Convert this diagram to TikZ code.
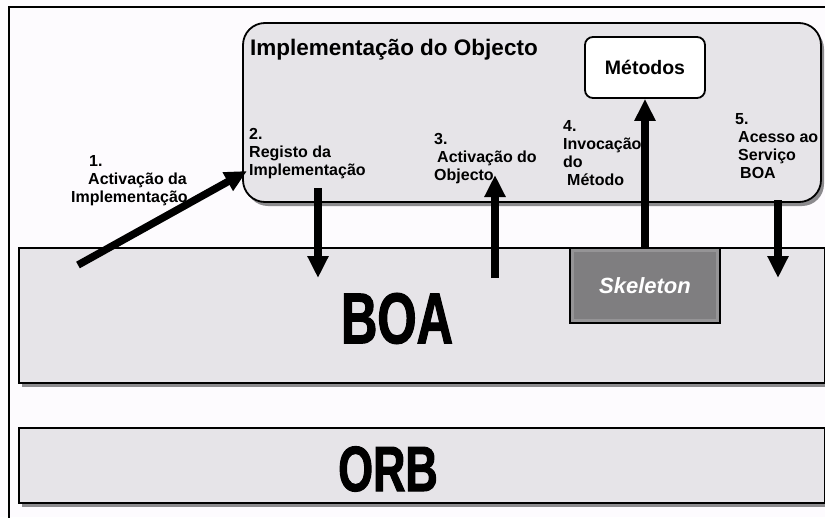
\documentclass[tikz,border=0pt]{standalone}
\usepackage{fontspec}
\setmainfont{Liberation Sans}
\newfontfamily\narrowfont[FakeStretch=0.7,FakeBold=1.5]{Liberation Sans}
\usetikzlibrary{arrows.meta,shadows}
\definecolor{fundo}{HTML}{FDFBFE}
\definecolor{cinzacaixa}{HTML}{E6E4E8}
\definecolor{sombra}{HTML}{8C8B8E}
\definecolor{skel}{HTML}{7F7E80}
\definecolor{skelborda}{HTML}{959496}

\begin{document}
\begin{tikzpicture}[x=1pt,y=-1pt,
    caixa/.style={draw, line width=1.8pt, fill=cinzacaixa, inner sep=0pt,
        drop shadow={shadow xshift=3pt, shadow yshift=-4pt, fill=sombra, opacity=1}},
    seta/.style={line width=7.5pt, -{Triangle[width=20pt,length=22pt]}},
    rotulo/.style={anchor=north west, inner sep=0pt, align=left,
        font=\bfseries\fontsize{16}{18}\selectfont}]
            \fill[fundo] (0,0) rectangle (825,517);
            \clip (0,0) rectangle (825,517);
            \draw[line width=2pt] (9,520) -- (9,7) -- (830,7);

            % camadas
            \node[caixa, rounded corners=22pt, minimum width=578pt, minimum height=179pt] (impl) at (532,112.5) {};
            \node[caixa, minimum width=806pt, minimum height=135pt] (boa) at (422,315.5) {};
            \node[caixa, minimum width=806pt, minimum height=75pt] (orb) at (422,465.5) {};

            \node[anchor=west, inner sep=0pt, font=\bfseries\fontsize{22.5}{26}\selectfont] (titulo) at (250,50) {Implementação do Objecto};
            \node[draw, line width=1.8pt, fill=white, rounded corners=8pt, minimum width=120pt, minimum height=61pt,
                font=\bfseries\fontsize{19.5}{22}\selectfont] (metodos) at (645,67.5) {Métodos};
            \node[inner sep=0pt, font=\narrowfont\bfseries\fontsize{72}{80}\selectfont] (boatxt) at (397,318.5) {BOA};
            \node[inner sep=0pt, font=\narrowfont\bfseries\fontsize{64}{70}\selectfont] (orbtxt) at (388,469) {ORB};

            \node[draw, line width=1.4pt, fill=skel, minimum width=150pt, minimum height=75pt, text=white,
                font=\bfseries\itshape\fontsize{22}{26}\selectfont] (skel) at (645,285.5) {Skeleton};
            \draw[skelborda, line width=3pt] ([shift={(3,3)}]skel.north west) rectangle ([shift={(-3,-3)}]skel.south east);

            % passos
            \coordinate (p1) at (78,265);
            \coordinate (q1) at (247,171);
            \coordinate (p2) at (318,188);
            \coordinate (q2) at (318,278);
            \coordinate (p3) at (495,278);
            \coordinate (q3) at (495,175);
            \coordinate (p5) at (778,200);
            \coordinate (q5) at (778,278);

            \draw[seta] (p1) -- (q1);
            \draw[seta] (p2) -- (q2);
            \draw[seta] (p3) -- (q3);
            \draw[seta] (skel.north) -- (metodos.south);
            \draw[seta] (p5) -- (q5);

            \node[rotulo] (passo1) at (71,155) {\hspace*{18pt}1.\\\hspace*{17pt}Activação da\\Implementação};
            \node[rotulo] (passo2) at (249,128) {2.\\Registo da\\Implementação};
            \node[rotulo] (passo3) at (434,133) {3.\\\hspace*{3pt}Activação do\\Objecto};
            \node[rotulo] (passo4) at (563,120) {4.\\Invocação\\do\\\hspace*{4pt}Método};
            \node[rotulo] (passo5) at (735,113) {5.\\\hspace*{3pt}Acesso ao\\\hspace*{3pt}Serviço\\\hspace*{5pt}BOA};
\end{tikzpicture}
\end{document}
